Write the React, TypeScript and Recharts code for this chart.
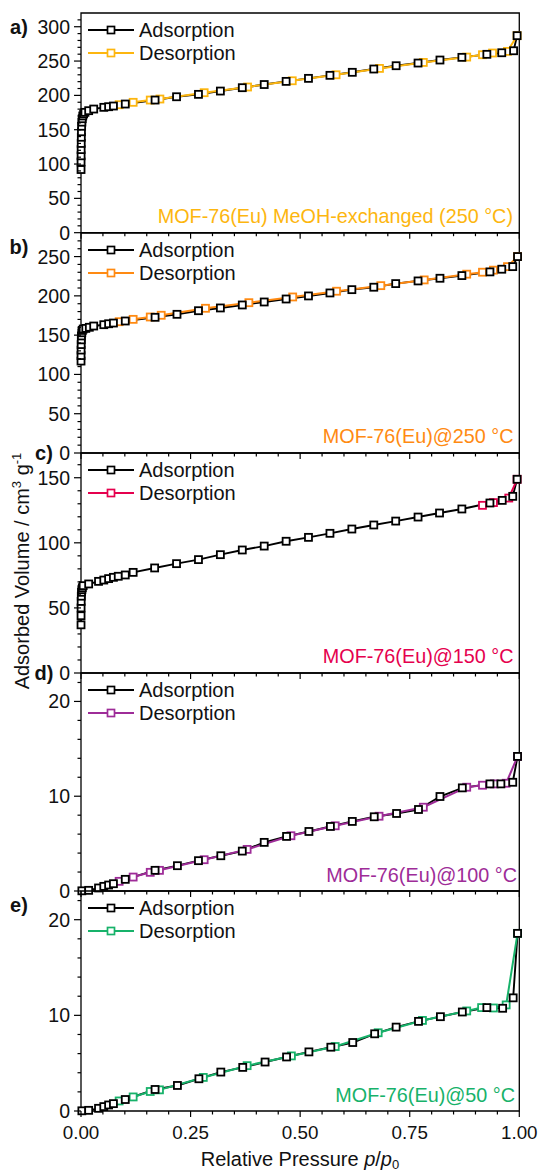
import React from 'react';
import { LineChart, Line, XAxis, YAxis, ReferenceArea } from 'recharts';

const FONT = '"Liberation Sans", Arial, Helvetica, sans-serif';

// relative pressure axis
const P_TICKS = [0, 0.05, 0.1, 0.15, 0.2, 0.25, 0.3, 0.35, 0.4, 0.45, 0.5, 0.55, 0.6, 0.65, 0.7, 0.75, 0.8, 0.85, 0.9, 0.95, 1];
const P_LABELS = [0, 0.25, 0.5, 0.75, 1];

// a) MeOH-exchanged, activated at 250 °C
const adsA_p = [0.00005, 0.0001, 0.0002, 0.0003, 0.0005, 0.0007, 0.001, 0.0014, 0.002, 0.0028, 0.004, 0.006, 0.009, 0.0175, 0.029, 0.052, 0.063, 0.074, 0.101, 0.169, 0.218, 0.268, 0.318, 0.368, 0.418, 0.468, 0.519, 0.568, 0.619, 0.668, 0.719, 0.769, 0.819, 0.869, 0.926, 0.96, 0.987, 0.995];
const adsA_v = [92, 103, 112, 121, 130, 139, 147, 155, 161, 166, 170, 173, 175.3, 177.7, 180.1, 182.6, 183.5, 184.5, 187.4, 193.2, 198, 201.5, 206.3, 211.2, 215.8, 220.4, 224.8, 229.2, 233.6, 238.4, 243.2, 247.1, 251.5, 255.4, 259.8, 262.1, 265, 287];
const desA_p = [0.995, 0.973, 0.939, 0.916, 0.88, 0.781, 0.681, 0.582, 0.482, 0.38, 0.281, 0.18, 0.158, 0.119, 0.087];
const desA_v = [287, 264.1, 261.7, 259.2, 255.8, 248, 239.3, 230, 221.3, 212.2, 203.9, 194.7, 193.2, 189.9, 186.4];

// b) 250 °C
const adsB_p = [0.00005, 0.0001, 0.0002, 0.0004, 0.0007, 0.001, 0.0018, 0.003, 0.005, 0.011, 0.019, 0.029, 0.052, 0.063, 0.074, 0.101, 0.169, 0.219, 0.268, 0.318, 0.368, 0.418, 0.468, 0.519, 0.568, 0.618, 0.668, 0.718, 0.769, 0.819, 0.869, 0.933, 0.96, 0.985, 0.996];
const adsB_v = [117, 124, 131, 138, 144, 149, 153, 156, 157.8, 158.6, 160, 161.6, 163.3, 164.5, 165.4, 168, 172.7, 176.5, 181.1, 184.6, 188.4, 192.2, 196, 199.9, 203.7, 207.9, 211, 215.6, 219, 222.4, 225.8, 230.5, 233.9, 237.2, 250];
const desB_p = [0.996, 0.973, 0.941, 0.916, 0.88, 0.783, 0.684, 0.583, 0.483, 0.383, 0.284, 0.183, 0.158, 0.119, 0.087];
const desB_v = [250, 237.2, 232.7, 230.1, 227.6, 220.3, 213, 205.9, 198.6, 191.3, 184.2, 175.3, 173.1, 170.1, 167.1];

// c) 150 °C
const adsC_p = [0.00005, 0.0001, 0.0002, 0.0004, 0.0007, 0.0012, 0.002, 0.003, 0.005, 0.0175, 0.04, 0.052, 0.063, 0.074, 0.085, 0.101, 0.119, 0.168, 0.218, 0.268, 0.318, 0.368, 0.418, 0.468, 0.519, 0.568, 0.618, 0.668, 0.718, 0.769, 0.818, 0.869, 0.933, 0.961, 0.985, 0.995];
const adsC_v = [37, 44, 50, 55, 59, 62, 64, 65.5, 67.1, 68.4, 70.4, 71.4, 72.5, 73.5, 74.3, 75.3, 77.3, 80.7, 84, 87.1, 90.9, 94.5, 97.5, 101.2, 104.2, 107.3, 110.6, 113.7, 116.7, 119.8, 122.9, 126, 130.6, 132.6, 135.7, 148.8];
const desC_p = [0.995, 0.976, 0.941, 0.916];
const desC_v = [148.8, 134.4, 130.9, 128.8];

// d) 100 °C
const adsD_p = [0.002, 0.0175, 0.04, 0.052, 0.063, 0.074, 0.101, 0.169, 0.22, 0.268, 0.319, 0.368, 0.418, 0.469, 0.52, 0.569, 0.619, 0.669, 0.72, 0.77, 0.819, 0.87, 0.933, 0.958, 0.985, 0.996];
const adsD_v = [0.02, 0.07, 0.32, 0.49, 0.63, 0.77, 1.23, 2.18, 2.67, 3.2, 3.72, 4.21, 5.13, 5.76, 6.28, 6.81, 7.34, 7.83, 8.18, 8.6, 9.97, 10.88, 11.3, 11.3, 11.47, 14.2];
const desD_p = [0.996, 0.97, 0.943, 0.916, 0.88, 0.781, 0.68, 0.58, 0.479, 0.379, 0.281, 0.179, 0.158, 0.119, 0.087];
const desD_v = [14.2, 11.37, 11.3, 11.16, 10.95, 8.84, 7.89, 6.88, 5.83, 4.39, 3.3, 2.18, 1.97, 1.47, 1.02];

// e) 50 °C
const adsE_p = [0.002, 0.0175, 0.04, 0.052, 0.063, 0.074, 0.101, 0.169, 0.22, 0.269, 0.319, 0.369, 0.42, 0.469, 0.52, 0.57, 0.62, 0.67, 0.719, 0.77, 0.82, 0.87, 0.926, 0.962, 0.986, 0.996];
const adsE_v = [0.02, 0.07, 0.28, 0.46, 0.63, 0.77, 1.2, 2.25, 2.67, 3.37, 4.07, 4.56, 5.12, 5.65, 6.18, 6.67, 7.16, 8.07, 8.77, 9.37, 9.86, 10.35, 10.81, 10.74, 11.83, 18.57];
const desE_p = [0.996, 0.97, 0.941, 0.914, 0.88, 0.779, 0.678, 0.58, 0.48, 0.379, 0.279, 0.179, 0.158, 0.119, 0.087];
const desE_v = [18.57, 11.09, 10.77, 10.81, 10.46, 9.47, 8.18, 6.74, 5.76, 4.74, 3.51, 2.21, 2.04, 1.47, 1.05];

// y ticks per panel
const yMajorA = [0, 50, 100, 150, 200, 250, 300];
const yMinorA = [10, 20, 30, 40, 60, 70, 80, 90, 110, 120, 130, 140, 160, 170, 180, 190, 210, 220, 230, 240, 260, 270, 280, 290, 310];
const yMajorB = [0, 50, 100, 150, 200, 250];
const yMinorB = [10, 20, 30, 40, 60, 70, 80, 90, 110, 120, 130, 140, 160, 170, 180, 190, 210, 220, 230, 240, 260, 270];
const yMajorC = [0, 50, 100, 150];
const yMinorC = [10, 20, 30, 40, 60, 70, 80, 90, 110, 120, 130, 140, 160];
const yMajorDE = [0, 10, 20];
const yMinorDE = [2, 4, 6, 8, 12, 14, 16, 18, 22];

const zip = (p: number[], v: number[]) => p.map((x, i) => ({ p: x, v: v[i] }));

type Panel = {
  letter: string;
  title: string;
  color: string;
  ads: { p: number; v: number }[];
  des: { p: number; v: number }[];
  yMax: number;
  yMajor: number[];
  yMinor: number[];
  top: number;
  bottom: number;
  letterX: number;
  letterY: number;
  titleRight: number;
  titleY: number;
};

const PANELS: Panel[] = [
  { letter: 'a)', title: 'MOF-76(Eu) MeOH-exchanged (250 °C)', color: '#FDB60F', ads: zip(adsA_p, adsA_v), des: zip(desA_p, desA_v), yMax: 320, yMajor: yMajorA, yMinor: yMinorA, top: 13, bottom: 232.7, letterX: 19, letterY: 27, titleRight: 513, titleY: 217 },
  { letter: 'b)', title: 'MOF-76(Eu)@250 °C', color: '#FF8A12', ads: zip(adsB_p, adsB_v), des: zip(desB_p, desB_v), yMax: 280, yMajor: yMajorB, yMinor: yMinorB, top: 232.7, bottom: 452.7, letterX: 19, letterY: 247, titleRight: 513.5, titleY: 436.7 },
  { letter: 'c)', title: 'MOF-76(Eu)@150 °C', color: '#E5004E', ads: zip(adsC_p, adsC_v), des: zip(desC_p, desC_v), yMax: 169, yMajor: yMajorC, yMinor: yMinorC, top: 452.7, bottom: 672.7, letterX: 44, letterY: 453, titleRight: 513.5, titleY: 656.7 },
  { letter: 'd)', title: 'MOF-76(Eu)@100 °C', color: '#9E2C98', ads: zip(adsD_p, adsD_v), des: zip(desD_p, desD_v), yMax: 23, yMajor: yMajorDE, yMinor: yMinorDE, top: 672.7, bottom: 890.7, letterX: 44, letterY: 673, titleRight: 517, titleY: 876 },
  { letter: 'e)', title: 'MOF-76(Eu)@50 °C', color: '#17B26A', ads: zip(adsE_p, adsE_v), des: zip(desE_p, desE_v), yMax: 23, yMajor: yMajorDE, yMinor: yMinorDE, top: 890.7, bottom: 1110.7, letterX: 19, letterY: 905, titleRight: 515, titleY: 1096 },
];

const PLOT_LEFT = 81;
const PLOT_RIGHT = 519.3;
const W = 541;
const PAD = 6;

const square = (color: string) => (props: any) => {
  const { cx, cy, index } = props;
  if (cx == null || cy == null) return <g key={index} />;
  return (
    <rect key={index} x={cx - 3.5} y={cy - 3.5} width={7} height={7} fill="#fff" stroke={color} strokeWidth={1.8} />
  );
};

const YTick = (props: any) => {
  const { x, y, payload, majors } = props;
  const major = majors.includes(payload.value);
  return (
    <g>
      <line x1={x} x2={x - (major ? 7 : 3.5)} y1={y} y2={y} stroke="#000" strokeWidth={1.2} />
      {major && (
        <text x={x - 11} y={y} dy="0.36em" textAnchor="end" fontSize={19.5} fontFamily={FONT} fill="#111">
          {payload.value}
        </text>
      )}
    </g>
  );
};

const XTick = (props: any) => {
  const { x, y, payload, labels } = props;
  const major = P_LABELS.some((m) => Math.abs(m - payload.value) < 1e-6);
  return (
    <g>
      <line x1={x} x2={x} y1={y} y2={y + (major ? 6 : 3.5)} stroke="#000" strokeWidth={1.2} />
      {labels && major && (
        <text x={x} y={y + 28} textAnchor="middle" fontSize={18.8} fontFamily={FONT} fill="#111">
          {payload.value.toFixed(2)}
        </text>
      )}
    </g>
  );
};

function IsothermPanel({ panel, last }: { panel: Panel; last: boolean }) {
  const plotH = panel.bottom - panel.top;
  const xAxisH = last ? 62 : 10;
  const height = plotH + PAD + xAxisH;
  return (
    <div style={{ position: 'absolute', left: 0, top: panel.top - PAD, width: W, height }}>
      <LineChart width={W} height={height} margin={{ top: PAD, right: W - PLOT_RIGHT, bottom: 0, left: 0 }}>
        <XAxis
          type="number"
          dataKey="p"
          domain={[0, 1]}
          ticks={P_TICKS}
          interval={0}
          height={xAxisH}
          axisLine={false}
          tickLine={false}
          tickSize={0}
          tickMargin={0}
          tick={<XTick labels={last} />}
        />
        <YAxis
          type="number"
          dataKey="v"
          domain={[0, panel.yMax]}
          ticks={[...panel.yMajor, ...panel.yMinor].sort((a, b) => a - b)}
          interval={0}
          width={PLOT_LEFT}
          axisLine={false}
          tickLine={false}
          tickSize={0}
          tickMargin={0}
          tick={<YTick majors={panel.yMajor} />}
        />
        <ReferenceArea x1={0} x2={1} y1={0} y2={panel.yMax} fill="none" stroke="#000" strokeWidth={1.3} />
        <Line data={panel.ads} dataKey="v" type="linear" stroke="#000" strokeWidth={1.9} dot={false} isAnimationActive={false} />
        <Line data={panel.des} dataKey="v" type="linear" stroke={panel.color} strokeWidth={2} dot={square(panel.color)} isAnimationActive={false} />
        <Line data={panel.ads} dataKey="v" type="linear" stroke="none" dot={square('#000')} isAnimationActive={false} />
      </LineChart>
    </div>
  );
}

function LegendBox({ panel }: { panel: Panel }) {
  const rows = [
    { name: 'Adsorption', color: '#000', y: panel.top + 17 },
    { name: 'Desorption', color: panel.color, y: panel.top + 40 },
  ];
  return (
    <>
      {rows.map((r) => (
        <div key={r.name} style={{ position: 'absolute', left: 88, top: r.y - 12, height: 24, display: 'flex', alignItems: 'center' }}>
          <svg width={48} height={24} style={{ display: 'block' }}>
            <line x1={0} x2={46} y1={12} y2={12} stroke={r.color} strokeWidth={2} />
            <rect x={19.5} y={8.5} width={7} height={7} fill="#fff" stroke={r.color} strokeWidth={1.7} />
          </svg>
          <span style={{ marginLeft: 3, fontSize: 20, fontFamily: FONT, color: '#111', lineHeight: 1 }}>{r.name}</span>
        </div>
      ))}
    </>
  );
}

export default function App() {
  return (
    <div style={{ position: 'absolute', left: 0, top: 0, width: W, height: 1173, background: '#fff', overflow: 'hidden' }}>
      {PANELS.map((panel, i) => (
        <IsothermPanel key={panel.letter} panel={panel} last={i === PANELS.length - 1} />
      ))}
      {PANELS.map((panel) => (
        <React.Fragment key={'o' + panel.letter}>
          <LegendBox panel={panel} />
          <div
            style={{
              position: 'absolute',
              left: panel.letterX,
              top: panel.letterY,
              transform: 'translate(-50%, -50%)',
              fontFamily: FONT,
              fontWeight: 'bold',
              fontSize: 20,
              lineHeight: 1,
              color: '#111',
            }}
          >
            {panel.letter}
          </div>
          <div
            style={{
              position: 'absolute',
              left: 0,
              width: panel.titleRight,
              top: panel.titleY,
              transform: 'translateY(-50%)',
              textAlign: 'right',
              fontFamily: FONT,
              fontSize: 19.8,
              lineHeight: 1,
              color: panel.color,
              whiteSpace: 'nowrap',
            }}
          >
            {panel.title}
          </div>
        </React.Fragment>
      ))}
      <div
        style={{
          position: 'absolute',
          left: 21,
          top: 571,
          transform: 'translate(-50%, -50%) rotate(-90deg)',
          fontFamily: FONT,
          fontSize: 20,
          lineHeight: 1,
          color: '#111',
          whiteSpace: 'nowrap',
        }}
      >
        Adsorbed Volume / cm<sup style={{ fontSize: 13, verticalAlign: '0.55em' }}>3</sup> g<sup style={{ fontSize: 13, verticalAlign: '0.55em' }}>-1</sup>
      </div>
      <div
        style={{
          position: 'absolute',
          left: 300,
          top: 1160,
          transform: 'translate(-50%, -50%)',
          fontFamily: FONT,
          fontSize: 20,
          lineHeight: 1,
          color: '#111',
          whiteSpace: 'nowrap',
        }}
      >
        Relative Pressure <i>p</i>/<i>p</i>
        <sub style={{ fontSize: 13, verticalAlign: '-0.3em' }}>0</sub>
      </div>
    </div>
  );
}
